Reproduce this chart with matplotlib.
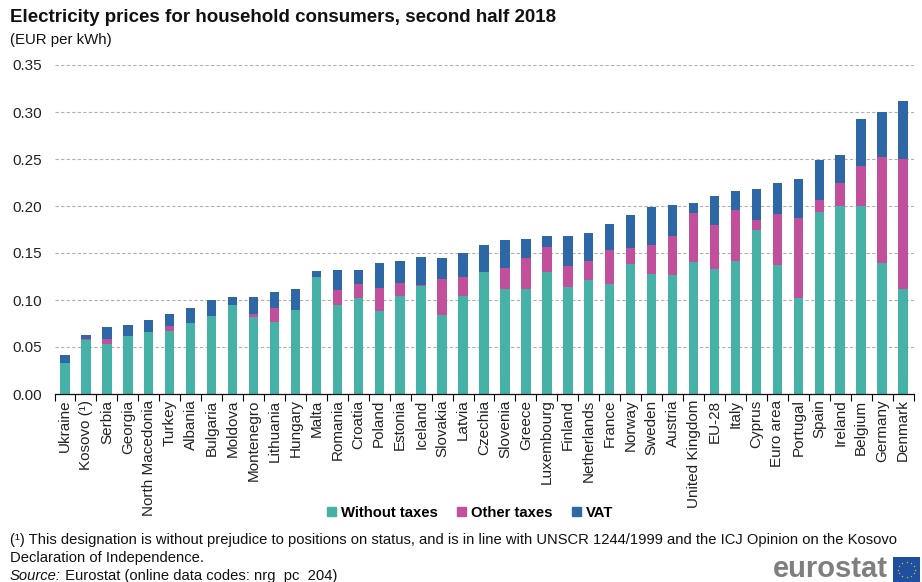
import numpy as np
import matplotlib
matplotlib.use('Agg')
import matplotlib.pyplot as plt
from matplotlib.patches import Patch, Rectangle

plt.rcParams['font.family'] = ['Liberation Sans', 'DejaVu Sans']

countries = ['Ukraine', 'Kosovo (¹)', 'Serbia', 'Georgia', 'North Macedonia', 'Turkey',
             'Albania', 'Bulgaria', 'Moldova', 'Montenegro', 'Lithuania', 'Hungary',
             'Malta', 'Romania', 'Croatia', 'Poland', 'Estonia', 'Iceland', 'Slovakia',
             'Latvia', 'Czechia', 'Slovenia', 'Greece', 'Luxembourg', 'Finland',
             'Netherlands', 'France', 'Norway', 'Sweden', 'Austria', 'United Kingdom',
             'EU-28', 'Italy', 'Cyprus', 'Euro area', 'Portugal', 'Spain', 'Ireland',
             'Belgium', 'Germany', 'Denmark']

without_taxes = [0.033, 0.057, 0.053, 0.062, 0.066, 0.067, 0.076, 0.083, 0.095, 0.082,
                 0.077, 0.089, 0.124, 0.095, 0.102, 0.088, 0.104, 0.115, 0.084, 0.104,
                 0.130, 0.112, 0.112, 0.130, 0.114, 0.121, 0.117, 0.138, 0.128, 0.127,
                 0.140, 0.133, 0.141, 0.174, 0.137, 0.102, 0.194, 0.200, 0.200, 0.139,
                 0.112]
other_taxes = [0.000, 0.001, 0.006, 0.000, 0.000, 0.005, 0.000, 0.000, 0.000, 0.003,
               0.014, 0.000, 0.001, 0.016, 0.015, 0.025, 0.014, 0.001, 0.038, 0.020,
               0.000, 0.022, 0.033, 0.026, 0.022, 0.021, 0.036, 0.017, 0.031, 0.041,
               0.053, 0.047, 0.055, 0.011, 0.054, 0.085, 0.012, 0.024, 0.043, 0.113,
               0.138]
vat = [0.008, 0.005, 0.012, 0.011, 0.013, 0.013, 0.015, 0.017, 0.008, 0.018,
       0.018, 0.023, 0.006, 0.021, 0.015, 0.026, 0.024, 0.030, 0.023, 0.026,
       0.028, 0.030, 0.020, 0.012, 0.032, 0.029, 0.028, 0.035, 0.040, 0.033,
       0.010, 0.031, 0.020, 0.033, 0.033, 0.042, 0.043, 0.030, 0.050, 0.048,
       0.062]

series_names = ['Without taxes', 'Other taxes', 'VAT']
colors = ['#46b1a7', '#c24f9b', '#2e67a6']

W, H = 922, 582
fig = plt.figure(figsize=(W / 100, H / 100), dpi=100)


def px(x, y):
    return x / W, 1 - y / H


ax = fig.add_axes([54.5 / W, 1 - 394 / H, 859 / W, (394 - 65) / H])

x = np.arange(len(countries))
wo = np.array(without_taxes)
ot = np.array(other_taxes)
va = np.array(vat)
ax.bar(x, wo, width=0.45, color=colors[0], zorder=3)
ax.bar(x, ot, width=0.45, bottom=wo, color=colors[1], zorder=3)
ax.bar(x, va, width=0.45, bottom=wo + ot, color=colors[2], zorder=3)

ax.set_xlim(-0.5, len(countries) - 0.5)
ax.set_ylim(0, 0.35)
ax.set_yticks(np.arange(0, 0.351, 0.05))
ax.set_yticklabels(['%.2f' % v for v in np.arange(0, 0.351, 0.05)], fontsize=11,
                   color='#222222')
ax.yaxis.grid(True, linestyle=(0, (3, 2)), color='#b0b0b0', linewidth=0.8, zorder=0)
ax.tick_params(axis='y', length=0, pad=9)

# category labels at bar centres, tick marks at the bar boundaries
ax.set_xticks(x)
ax.set_xticklabels(countries, rotation=90, fontsize=11, color='#222222')
ax.tick_params(axis='x', which='major', length=0, pad=4)
ax.set_xticks(np.arange(-0.5, len(countries), 1), minor=True)
ax.tick_params(axis='x', which='minor', length=5, width=0.8, direction='out')

for s in ['top', 'right', 'left']:
    ax.spines[s].set_visible(False)
ax.spines['bottom'].set_linewidth(0.9)
ax.spines['bottom'].set_color('#111111')
ax.spines['bottom'].set_zorder(4)

fig.text(*px(10, 18), 'Electricity prices for household consumers, second half 2018',
         fontsize=13.5, fontweight='bold', va='center', ha='left', color='#111111')
fig.text(*px(10, 40), '(EUR per kWh)', fontsize=10.8, va='center', ha='left',
         color='#111111')

handles = [Patch(color=c) for c in colors]
leg = fig.legend(handles, series_names, loc='center', bbox_to_anchor=px(470, 513),
                 ncol=3, frameon=False, handlelength=0.6, handleheight=0.6,
                 handletextpad=0.35, columnspacing=1.3,
                 prop={'weight': 'bold', 'size': 10.7})

note_fs = 10.6
fig.text(*px(10, 540), '(¹) This designation is without prejudice to positions on status, '
         'and is in line with UNSCR 1244/1999 and the ICJ Opinion on the Kosovo',
         fontsize=note_fs, va='center', ha='left', color='#111111')
fig.text(*px(10, 558), 'Declaration of Independence.', fontsize=note_fs, va='center',
         ha='left', color='#111111')
src = fig.text(*px(10, 576), 'Source:', fontsize=note_fs, style='italic', va='center',
               ha='left', color='#111111')
ax.annotate(' Eurostat (online data codes: nrg_pc_204)', xy=(1, 0.5), xycoords=src,
            va='center', ha='left', fontsize=note_fs, color='#111111',
            annotation_clip=False)

# eurostat wordmark with the EU flag
fig.text(*px(888, 569), 'eurostat', fontsize=21, fontweight='bold', ha='right',
         va='center', color='#7f7f7f')
flag_ax = fig.add_axes([893 / W, 1 - 582 / H, 27 / W, 25 / H])
flag_ax.add_patch(Rectangle((0, 0), 1, 1, color='#1f4fa0'))
ang = np.linspace(0, 2 * np.pi, 12, endpoint=False)
flag_ax.scatter(0.5 + 0.3 * np.cos(ang), 0.5 + 0.3 * np.sin(ang), s=2.5,
                marker='*', color='#f5d000', linewidths=0)
flag_ax.set_xlim(0, 1)
flag_ax.set_ylim(0, 1)
flag_ax.axis('off')

fig.savefig('out.png', dpi=100)
